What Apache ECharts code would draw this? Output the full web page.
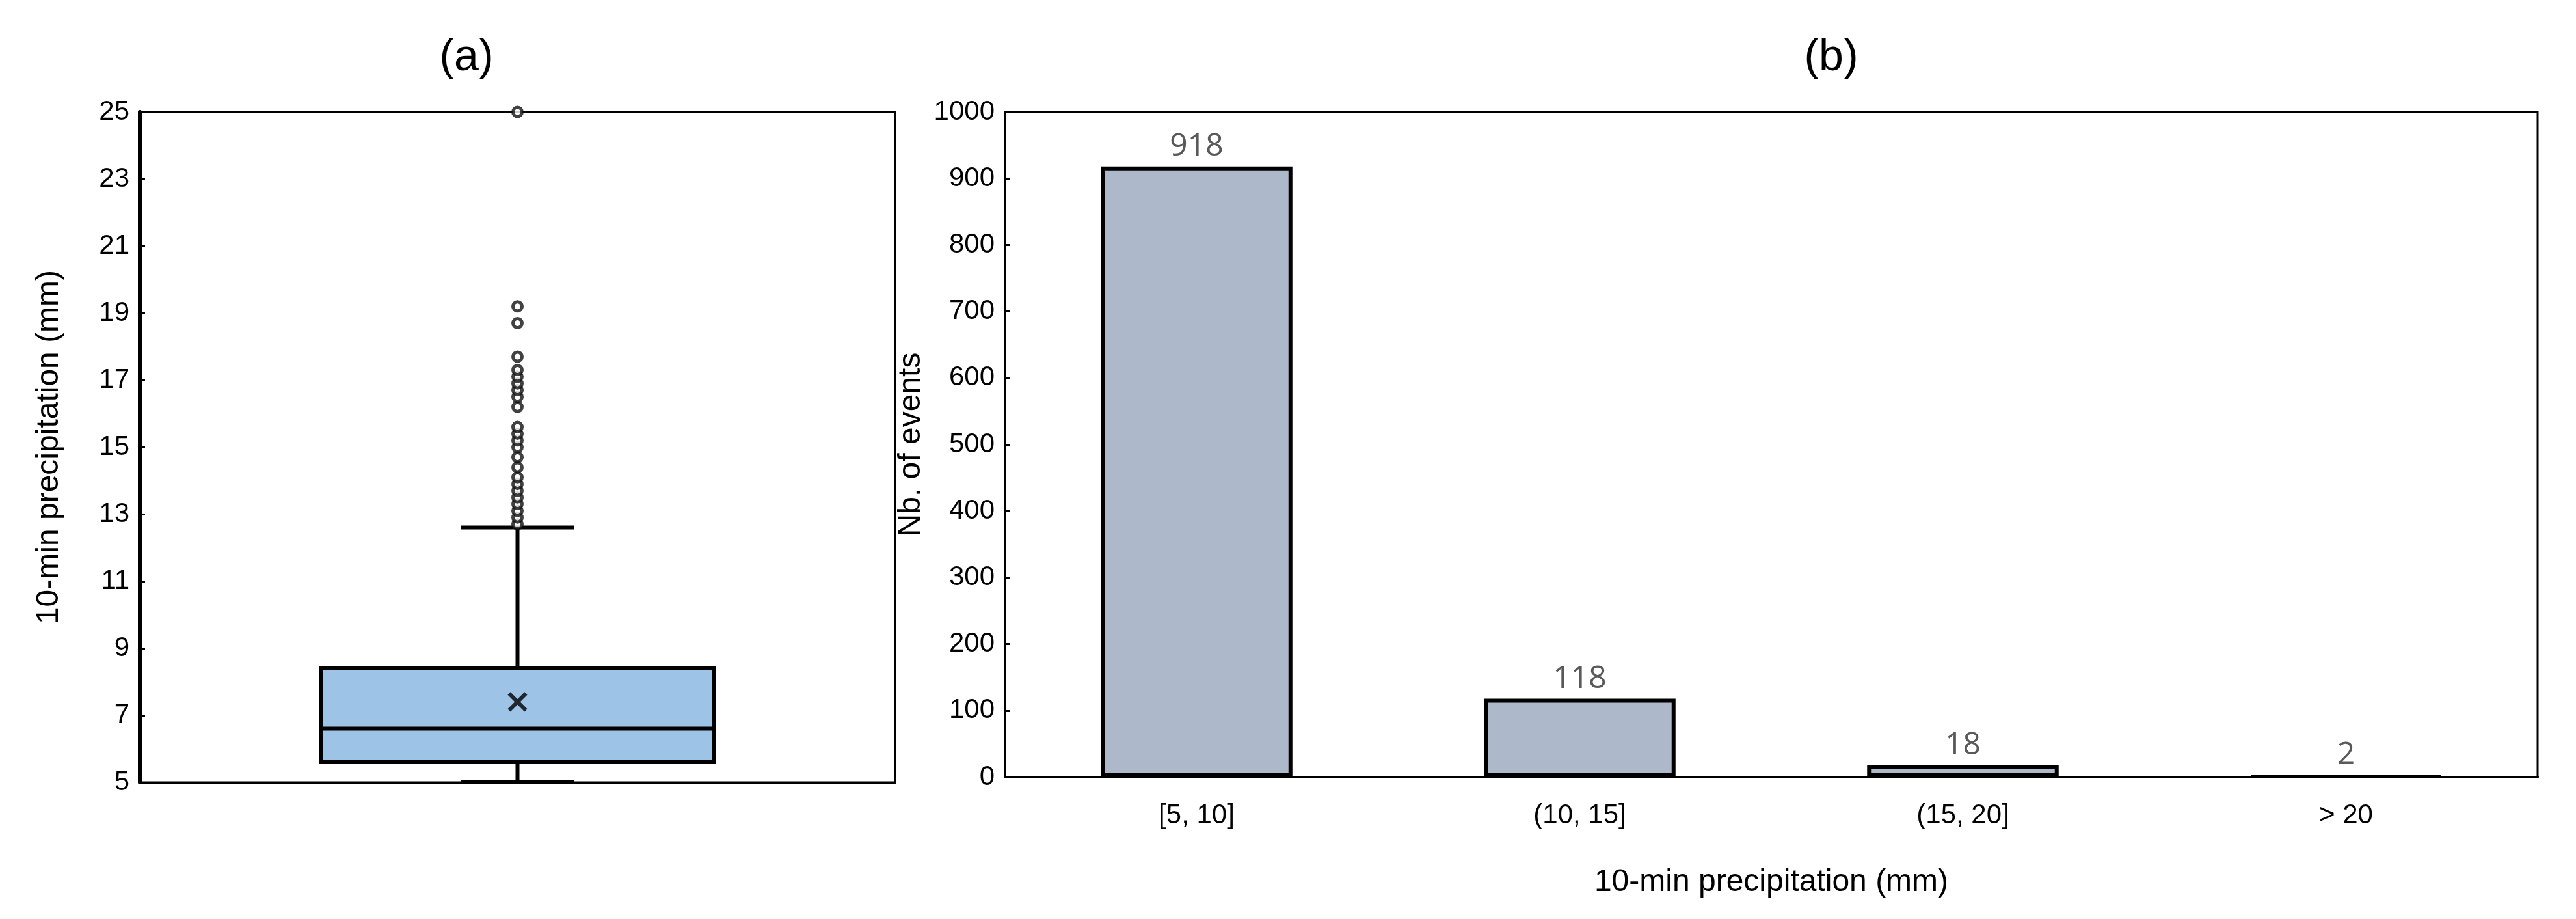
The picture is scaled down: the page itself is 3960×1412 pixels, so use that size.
<!DOCTYPE html>
<html>
<head>
<meta charset="utf-8">
<script src="https://cdn.jsdelivr.net/npm/echarts@6/dist/echarts.min.js"></script>
<style>html,body{margin:0;background:#fff}#c{width:3960px;height:1412px}</style>
</head>
<body>
<div id="c"></div>
<script>
const boxStats = [5.0, 5.6, 6.6, 8.4, 12.6]; // low, q1, median, q3, high
const boxMean = 7.4;
const outliers = [12.7, 12.9, 13.1, 13.3, 13.5, 13.7, 13.9, 14.1, 14.4, 14.7, 15.0, 15.2, 15.4, 15.6,
	16.2, 16.5, 16.7, 16.9, 17.1, 17.3, 17.7, 18.7, 19.2, 25.0];
const classes = ['[5, 10]', '(10, 15]', '(15, 20]', '> 20'];
const counts = [918, 118, 18, 2];

const font = 'Liberation Sans';
const chart = echarts.init(document.getElementById('c'));

function boxItem(params, api) {
	const lo = api.coord([0, boxStats[0]]);
	const q1 = api.coord([0, boxStats[1]]);
	const md = api.coord([0, boxStats[2]]);
	const q3 = api.coord([0, boxStats[3]]);
	const hi = api.coord([0, boxStats[4]]);
	const w = api.size([1, 0])[0];
	const bw = w * 0.52, cw = w * 0.15;
	const x = lo[0];
	const st = {stroke: '#000', lineWidth: 6};
	return {
		type: 'group',
		children: [
			{type: 'line', shape: {x1: x, y1: lo[1], x2: x, y2: q1[1]}, style: st},
			{type: 'line', shape: {x1: x, y1: q3[1], x2: x, y2: hi[1]}, style: st},
			{type: 'line', shape: {x1: x - cw / 2, y1: lo[1], x2: x + cw / 2, y2: lo[1]}, style: st},
			{type: 'line', shape: {x1: x - cw / 2, y1: hi[1], x2: x + cw / 2, y2: hi[1]}, style: st},
			{type: 'rect', shape: {x: x - bw / 2, y: q3[1], width: bw, height: q1[1] - q3[1]},
				style: {fill: '#9dc3e6', stroke: '#000', lineWidth: 6}},
			{type: 'line', shape: {x1: x - bw / 2, y1: md[1], x2: x + bw / 2, y2: md[1]}, style: st}
		]
	};
}

const axisLbl = {fontFamily: font, fontSize: 42, color: '#000'};
const nameSt = {fontFamily: font, fontSize: 48, color: '#000'};
const titleSt = {fontFamily: font, fontSize: 68, fontWeight: 'normal', color: '#000'};

chart.setOption({
	animation: false,
	title: [
		{text: '(a)', left: 712, top: 50, textAlign: 'center', textStyle: titleSt},
		{text: '(b)', left: 2810, top: 50, textAlign: 'center', textStyle: titleSt}
	],
	grid: [
		{left: 215, width: 1161, top: 172, height: 1030, show: true, borderColor: '#000', borderWidth: 3},
		{left: 1545, right: 59, top: 172, height: 1022, show: true, borderColor: '#000', borderWidth: 3}
	],
	xAxis: [
		{gridIndex: 0, type: 'category', data: [''], axisLine: {lineStyle: {color: '#000', width: 3}},
			axisTick: {show: false}, axisLabel: {show: false}},
		{gridIndex: 1, type: 'category', data: classes, axisLine: {lineStyle: {color: '#000', width: 4}},
			axisTick: {show: false}, axisLabel: Object.assign({margin: 38}, axisLbl),
			name: '10-min precipitation (mm)', nameLocation: 'middle', nameGap: 138, nameTextStyle: nameSt}
	],
	yAxis: [
		{gridIndex: 0, type: 'value', min: 5, max: 25, interval: 2, splitLine: {show: false},
			axisLine: {show: true, lineStyle: {color: '#000', width: 6}},
			axisTick: {show: true, inside: true, length: 8, lineStyle: {width: 3}},
			axisLabel: Object.assign({margin: 16}, axisLbl),
			name: '10-min precipitation (mm)', nameLocation: 'middle', nameGap: 115, nameTextStyle: nameSt},
		{gridIndex: 1, type: 'value', min: 0, max: 1000, interval: 100, splitLine: {show: false},
			axisLine: {show: true, lineStyle: {color: '#000', width: 3}},
			axisTick: {show: true, inside: true, length: 8, lineStyle: {width: 3}},
			axisLabel: Object.assign({margin: 16, formatter: v => String(v)}, axisLbl),
			name: 'Nb. of events', nameLocation: 'middle', nameGap: 115, nameTextStyle: nameSt}
	],
	series: [
		{type: 'custom', xAxisIndex: 0, yAxisIndex: 0, renderItem: boxItem, data: [[0]], z: 2},
		{type: 'scatter', xAxisIndex: 0, yAxisIndex: 0, data: outliers.map(v => [0, v]), symbolSize: 14,
			itemStyle: {color: '#fff', borderColor: '#111', borderWidth: 5}, z: 3},
		{type: 'scatter', xAxisIndex: 0, yAxisIndex: 0, data: [[0, boxMean]], symbolSize: 26,
			symbol: 'path://M0,0 L10,10 M10,0 L0,10', itemStyle: {color: 'none', borderColor: '#000', borderWidth: 6}, z: 4},
		{type: 'bar', xAxisIndex: 1, yAxisIndex: 1, data: counts, barWidth: '50%',
			itemStyle: {color: '#adb9ca', borderColor: '#000', borderWidth: 6},
			label: {show: true, position: 'top', distance: 6, fontFamily: 'Open Sans', fontSize: 48, color: '#595959'}}
	]
});
</script>
</body>
</html>
